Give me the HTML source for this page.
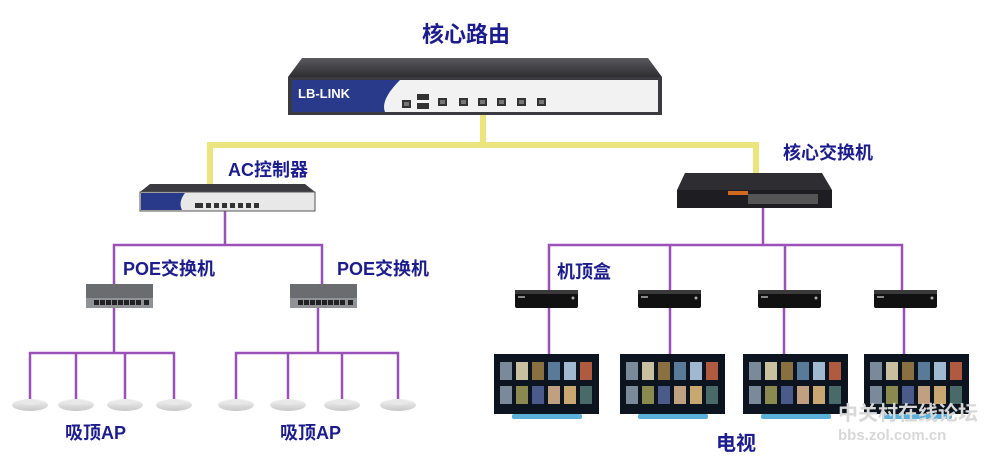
<!DOCTYPE html>
<html><head><meta charset="utf-8"><style>
html,body{margin:0;padding:0;background:#fff;}
svg{display:block}
text{font-family:"Liberation Sans","Noto Sans CJK SC",sans-serif;font-weight:bold;fill:#1c1c8c;}
</style></head><body>
<svg width="1000" height="469" viewBox="0 0 1000 469" xmlns="http://www.w3.org/2000/svg">
<defs>
<linearGradient id="top" x1="0" y1="0" x2="0" y2="1"><stop offset="0" stop-color="#5a5a5e"/><stop offset="1" stop-color="#2e2e32"/></linearGradient>
<linearGradient id="ap" x1="0" y1="0" x2="0" y2="1"><stop offset="0" stop-color="#f4f4f4"/><stop offset="1" stop-color="#c8c8c8"/></linearGradient>
<g id="port"><rect width="9" height="8" fill="#333"/><rect x="2" y="2" width="5" height="4" fill="#777"/></g>
<g id="ap1"><ellipse cx="0" cy="5" rx="18" ry="6" fill="url(#ap)"/><ellipse cx="0" cy="2" rx="9" ry="3" fill="#e8e8e8"/></g>
<g id="stb"><rect x="0" y="0" width="63" height="18" rx="2" fill="#111"/><rect x="0" y="0" width="63" height="4" fill="#3a3a3a"/><rect x="3" y="6" width="7" height="2" fill="#888"/><circle cx="58" cy="8" r="1.5" fill="#aaa"/></g>
<g id="tv"><rect x="0" y="0" width="105" height="60" fill="#0c1420"/><rect x="18" y="60" width="70" height="5" rx="2" fill="#5ab0d8"/>
<g fill="#7a8a9a"><rect x="6" y="8" width="12" height="18"/><rect x="22" y="8" width="12" height="18" fill="#c9c0a0"/><rect x="38" y="8" width="12" height="18" fill="#8a7040"/><rect x="54" y="8" width="12" height="18" fill="#5a7a9a"/><rect x="70" y="8" width="12" height="18" fill="#a0b8d0"/><rect x="86" y="8" width="12" height="18" fill="#b05a40"/>
<rect x="6" y="32" width="12" height="18"/><rect x="22" y="32" width="12" height="18" fill="#8a8a50"/><rect x="38" y="32" width="12" height="18" fill="#4a5a8a"/><rect x="54" y="32" width="12" height="18" fill="#c0a080"/><rect x="70" y="32" width="12" height="18" fill="#c8a870"/><rect x="86" y="32" width="12" height="18" fill="#4a6a6a"/></g></g>
<g id="poe"><rect x="0" y="0" width="67" height="14" fill="#6a6c70"/><rect x="0" y="14" width="67" height="10" fill="#909296"/><g fill="#222"><rect x="8" y="16" width="5" height="5"/><rect x="14" y="16" width="5" height="5"/><rect x="20" y="16" width="5" height="5"/><rect x="26" y="16" width="5" height="5"/><rect x="32" y="16" width="5" height="5"/><rect x="38" y="16" width="5" height="5"/><rect x="44" y="16" width="5" height="5"/><rect x="50" y="16" width="5" height="5"/><rect x="58" y="16" width="5" height="5"/></g></g>
</defs>

<!-- yellow links -->
<g fill="none" stroke="#ece47c" stroke-width="6">
<polyline points="210,186 210,145 756,145 756,174"/>
<line x1="483" y1="115" x2="483" y2="145"/>
</g>

<!-- purple links -->
<g fill="none" stroke="#9b50b8" stroke-width="2.5">
<line x1="225" y1="211" x2="225" y2="245"/>
<polyline points="114,285 114,245 322,245 322,285"/>
<line x1="114" y1="308" x2="114" y2="353"/>
<line x1="318" y1="308" x2="318" y2="353"/>
<polyline points="30,400 30,353 174,353 174,400"/><line x1="76" y1="353" x2="76" y2="400"/><line x1="125" y1="353" x2="125" y2="400"/>
<polyline points="236,400 236,353 398,353 398,400"/><line x1="288" y1="353" x2="288" y2="400"/><line x1="342" y1="353" x2="342" y2="400"/>
<line x1="763" y1="208" x2="763" y2="245"/>
<polyline points="549,290 549,245 902,245 902,290"/><line x1="670" y1="245" x2="670" y2="290"/><line x1="785" y1="245" x2="785" y2="290"/>
<line x1="549" y1="308" x2="549" y2="355"/><line x1="670" y1="308" x2="670" y2="355"/><line x1="784" y1="308" x2="784" y2="355"/><line x1="904" y1="308" x2="904" y2="355"/>
</g>

<!-- core router -->
<polygon points="302,58 648,58 662,77 288,77" fill="url(#top)"/>
<rect x="288" y="77" width="374" height="38" fill="#3a3a40"/>
<rect x="292" y="80" width="366" height="32" fill="#f2f2f2"/>
<path d="M292,80 L400,80 Q380,100 385,112 L292,112 Z" fill="#2a3a8a"/>
<text x="298" y="98" font-size="13" style="fill:#fff">LB-LINK</text>
<use href="#port" x="402" y="100"/><rect x="417" y="94" width="12" height="6" fill="#333"/><rect x="417" y="103" width="12" height="6" fill="#333"/>
<use href="#port" x="438" y="98"/><use href="#port" x="459" y="98"/><use href="#port" x="478" y="98"/><use href="#port" x="497" y="98"/><use href="#port" x="517" y="98"/><use href="#port" x="537" y="98"/>

<!-- AC controller -->
<polygon points="150,184 305,184 315,192 140,192" fill="#3a3a40"/>
<rect x="140" y="192" width="175" height="19" fill="#e8e8e8" stroke="#555"/>
<path d="M141,193 L185,193 Q178,202 182,210 L141,210 Z" fill="#2a3a8a"/>
<g fill="#333"><rect x="195" y="203" width="8" height="5"/><rect x="206" y="203" width="5" height="5"/><rect x="214" y="203" width="5" height="5"/><rect x="222" y="203" width="5" height="5"/><rect x="230" y="203" width="5" height="5"/><rect x="238" y="203" width="5" height="5"/><rect x="246" y="203" width="5" height="5"/><rect x="254" y="203" width="5" height="5"/></g>

<!-- core switch -->
<polygon points="685,173 822,173 832,190 677,190" fill="#2e2e32"/>
<rect x="677" y="190" width="155" height="18" fill="#1e1e22"/>
<rect x="728" y="191" width="20" height="4" fill="#d06a20"/>
<g fill="#bbb"><rect x="748" y="194" width="70" height="10" fill="#555"/></g>

<!-- POE switches -->
<use href="#poe" x="86" y="284"/><use href="#poe" x="290" y="284"/>

<!-- APs -->
<use href="#ap1" x="30" y="400"/><use href="#ap1" x="76" y="400"/><use href="#ap1" x="125" y="400"/><use href="#ap1" x="174" y="400"/>
<use href="#ap1" x="236" y="400"/><use href="#ap1" x="288" y="400"/><use href="#ap1" x="342" y="400"/><use href="#ap1" x="398" y="400"/>

<!-- STBs & TVs -->
<use href="#stb" x="515" y="290"/><use href="#stb" x="638" y="290"/><use href="#stb" x="758" y="290"/><use href="#stb" x="874" y="290"/>
<use href="#tv" x="494" y="354"/><use href="#tv" x="620" y="354"/><use href="#tv" x="743" y="354"/><use href="#tv" x="864" y="354"/>

<!-- labels -->
<text x="422" y="42" font-size="22">核心路由</text>
<text x="228" y="176" font-size="18">AC控制器</text>
<text x="783" y="159" font-size="18">核心交换机</text>
<text x="123" y="275" font-size="18">POE交换机</text>
<text x="337" y="275" font-size="18">POE交换机</text>
<text x="557" y="278" font-size="18">机顶盒</text>
<text x="65" y="439" font-size="18">吸顶AP</text>
<text x="280" y="439" font-size="18">吸顶AP</text>
<text x="716" y="450" font-size="20">电视</text>
<text x="838" y="420" font-size="20" style="fill:#d8d8d8">中关村在线论坛</text>
<text x="838" y="440" font-size="15" style="fill:#d8d8d8">bbs.zol.com.cn</text>
</svg>
</body></html>
